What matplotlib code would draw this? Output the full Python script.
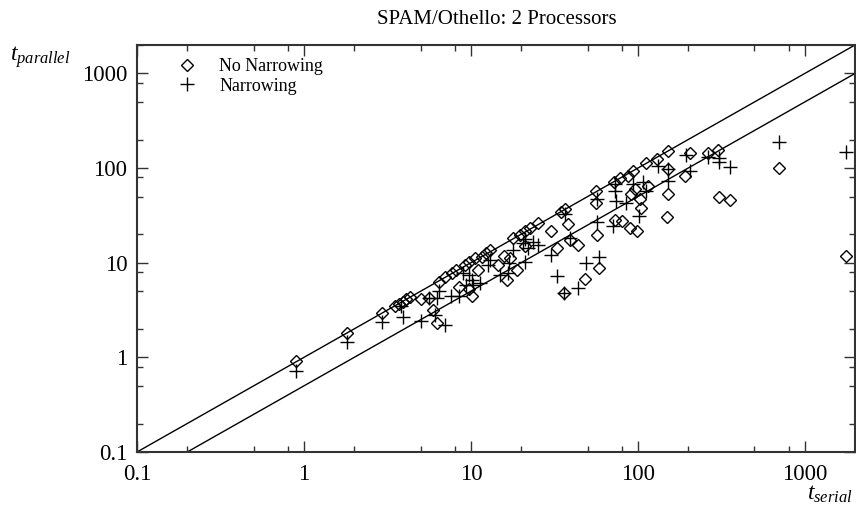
import numpy as np
import matplotlib
matplotlib.use("Agg")
import matplotlib.pyplot as plt
from matplotlib.ticker import LogLocator, NullFormatter, FixedLocator, FixedFormatter

plt.rcParams['font.family'] = ['Liberation Serif', 'DejaVu Serif']
plt.rcParams['mathtext.fontset'] = 'custom'
plt.rcParams['mathtext.it'] = 'Liberation Serif:italic'
plt.rcParams['mathtext.rm'] = 'Liberation Serif'

# No Narrowing (diamonds): serial time, parallel time
nn_serial = [0.9, 1.8, 2.95, 3.5, 3.7, 3.9, 4.1, 4.3, 5.0, 5.6, 5.9, 6.3,
             6.4, 7.0, 7.7, 8.2, 8.5, 9.8, 9.2, 9.8, 10.1, 10.6, 11.0, 11.6,
             12.4, 13.0, 14.6, 15.9, 17.1, 16.4, 18.9, 18.0, 19.8, 21.0, 22.5,
             25.3, 21.0, 30.4, 32.6, 34.9, 36.7, 36.2, 38.3, 39.4, 44.0, 48.5,
             56.0, 56.0, 56.6, 58.6, 72.0, 78.0, 87.0, 93.5, 73.0, 80.0, 89.5,
             99.0, 91.5, 96.0, 103.0, 105.0, 115.0, 112.0, 131.0, 152.0, 152.0,
             152.0, 150.0, 191.0, 205.0, 264.0, 303.0, 307.0, 359.0, 702.0,
             1760.0]
nn_parallel = [0.92, 1.8, 2.95, 3.5, 3.65, 3.85, 4.1, 4.3, 4.1, 4.2, 3.2, 2.3,
               6.3, 7.1, 7.7, 8.4, 5.6, 5.3, 9.5, 10.2, 4.4, 11.1, 8.3, 11.6,
               12.6, 13.7, 9.5, 11.7, 11.1, 6.6, 8.3, 18.3, 19.8, 21.5, 23.4,
               26.4, 15.0, 21.5, 14.4, 34.4, 36.6, 4.8, 25.4, 17.5, 15.5, 6.8,
               57.0, 43.0, 19.8, 8.8, 72.0, 79.0, 83.0, 93.5, 28.6, 27.6, 23.4,
               21.5, 52.8, 60.0, 46.8, 38.2, 65.0, 113.0, 125.0, 153.0, 97.5,
               52.8, 30.3, 83.0, 144.0, 144.0, 157.0, 50.0, 46.0, 101.0, 11.9]

# Narrowing (pluses)
n_serial = [0.9, 1.8, 2.95, 3.8, 3.9, 5.0, 5.6, 6.3, 6.4, 6.1, 7.0, 7.6, 8.5,
            9.0, 9.8, 10.1, 10.3, 11.3, 9.4, 12.6, 13.0, 14.9, 16.7, 17.0,
            17.9, 20.4, 21.0, 21.0, 22.0, 23.6, 25.3, 30.4, 32.6, 36.2, 36.7,
            39.4, 44.0, 48.8, 56.6, 56.6, 58.6, 73.5, 71.0, 73.0, 74.5, 85.0,
            94.0, 101.0, 107.0, 112.0, 133.0, 152.0, 152.0, 194.0, 205.0,
            264.0, 307.0, 307.0, 359.0, 702.0, 1760.0]
n_parallel = [0.72, 1.45, 2.35, 3.5, 2.7, 2.45, 4.2, 4.2, 5.0, 2.8, 2.2, 4.4,
              4.5, 7.8, 7.4, 6.6, 5.8, 6.1, 5.8, 9.5, 10.8, 7.5, 7.8, 9.9,
              13.5, 16.2, 10.2, 17.7, 14.4, 16.7, 15.5, 12.2, 7.3, 4.8, 32.6,
              18.3, 5.4, 9.9, 46.8, 27.0, 11.5, 57.0, 24.3, 67.6, 44.5, 43.0,
              67.6, 31.0, 70.5, 57.0, 106.0, 73.0, 97.0, 137.0, 93.5,
              130.0, 127.0, 115.0, 104.0, 190.0, 149.0]

lims = [0.1, 2000]
major_ticks = [0.1, 1, 10, 100, 1000]
major_labels = ["0.1", "1", "10", "100", "1000"]

fig = plt.figure(figsize=(8.56, 5.05), dpi=100)
ax = fig.add_axes([137 / 856, 1 - 452 / 505, 718 / 856, 407 / 505])

# reference lines: speedup 1 and speedup 2
ref = np.array(lims)
ax.plot(ref, ref, color='black', lw=1.0)
ax.plot(ref, ref / 2, color='black', lw=1.0)

ax.plot(nn_serial, nn_parallel, linestyle='none', marker='D', ms=6,
        mfc='none', mec='black', mew=1.0, label='No Narrowing', clip_on=False)
ax.plot(n_serial, n_parallel, linestyle='none', marker='+', ms=10,
        mec='black', mew=1.0, label='Narrowing', clip_on=False)

ax.set_xscale('log')
ax.set_yscale('log')
ax.set_xlim(lims)
ax.set_ylim(lims)

for axis in (ax.xaxis, ax.yaxis):
    axis.set_major_locator(FixedLocator(major_ticks))
    axis.set_major_formatter(FixedFormatter(major_labels))
    axis.set_minor_locator(LogLocator(base=10, subs=[2, 5, 8]))
    axis.set_minor_formatter(NullFormatter())

ax.tick_params(which='both', direction='in', top=True, right=True,
               color='#333333', width=1.0)
ax.tick_params(which='major', length=8, labelsize=16.5)
ax.tick_params(which='minor', length=4.5)
ax.tick_params(axis='x', pad=9)
ax.tick_params(axis='y', pad=7)

for sp in ax.spines.values():
    sp.set_color('#333333')
    sp.set_linewidth(1.5)

leg = ax.legend(loc='upper left', bbox_to_anchor=(0.057, 0.968), frameon=False,
                fontsize=13, handlelength=1.0, handletextpad=1.3,
                labelspacing=0.15, borderpad=0, borderaxespad=0)

fig.text(497 / 856, 1 - 20 / 505, "SPAM/Othello: 2 Processors", fontsize=15,
         ha='center', va='center')
fig.text(10 / 856, 1 - 57 / 505, r"$t_{parallel}$", fontsize=17,
         ha='left', va='center')
fig.text(853 / 856, 1 - 494 / 505, r"$t_{serial}$", fontsize=17,
         ha='right', va='center')

fig.savefig("out.png", dpi=100)
